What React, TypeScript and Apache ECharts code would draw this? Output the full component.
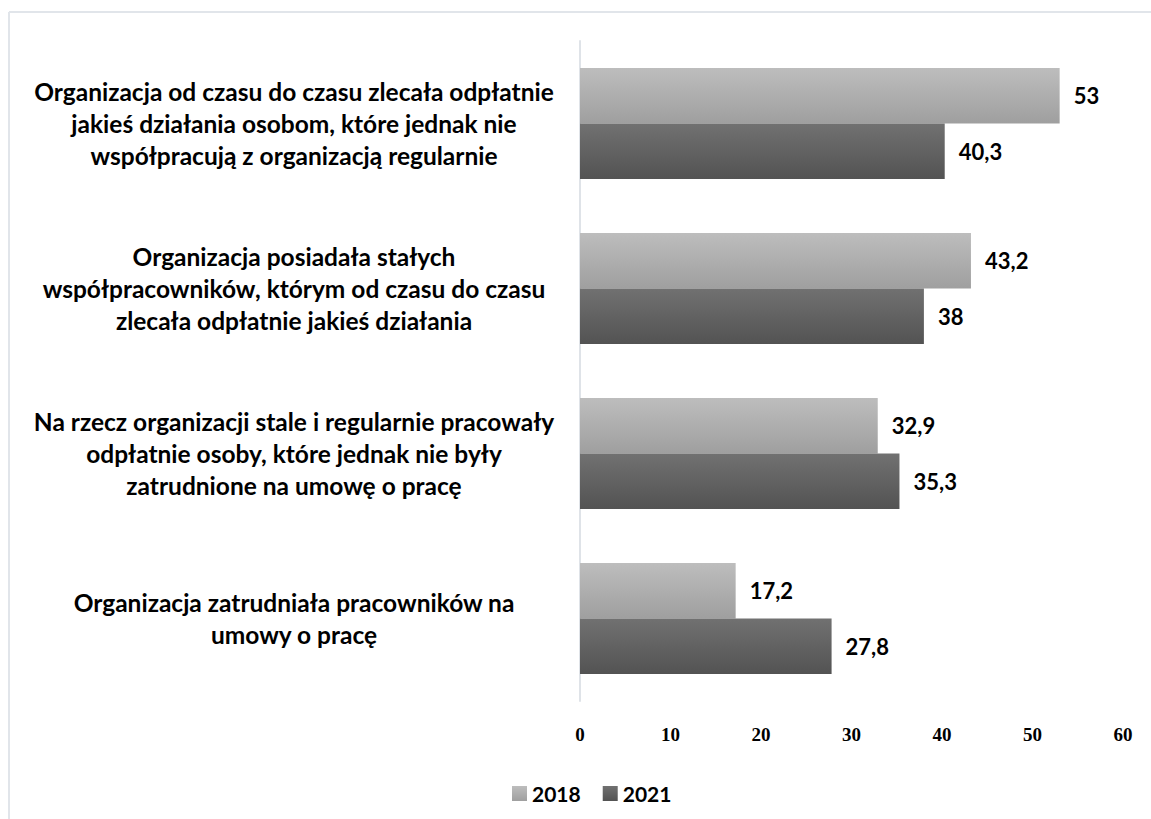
import React, { useEffect, useRef } from "react";
import * as echarts from "echarts";

const categories: string[] = [
  "Organizacja od czasu do czasu zlecała odpłatnie\njakieś działania osobom, które jednak nie\nwspółpracują z organizacją regularnie",
  "Organizacja posiadała stałych\nwspółpracowników, którym od czasu do czasu\nzlecała odpłatnie jakieś działania",
  "Na rzecz organizacji stale i regularnie pracowały\nodpłatnie osoby, które jednak nie były\nzatrudnione na umowę o pracę",
  "Organizacja zatrudniała pracowników na\numowy o pracę",
];
const seriesNames: string[] = ["2018", "2021"];
const values2018: number[] = [53, 43.2, 32.9, 17.2];
const values2021: number[] = [40.3, 38, 35.3, 27.8];
const xTicks = { min: 0, max: 60, interval: 10 };

const LABEL_FONT = "Lato, 'Open Sans', sans-serif";

export default function App() {
  const ref = useRef<HTMLDivElement>(null);
  useEffect(() => {
    if (!ref.current) return;
    const chart = echarts.init(ref.current, undefined, { renderer: "svg" });
    const grad = (a: string, b: string) =>
      new echarts.graphic.LinearGradient(0, 0, 0, 1, [
        { offset: 0, color: a },
        { offset: 1, color: b },
      ]);
    const valueLabel = {
      show: true,
      position: "right" as const,
      distance: 14,
      color: "#000",
      fontFamily: LABEL_FONT,
      fontWeight: "bold" as const,
      fontSize: 22,
      formatter: (p: any) => String(p.value).replace(".", ","),
    };
    chart.setOption({
      animation: false,
      graphic: [
        { type: "line", shape: { x1: 9, y1: 12, x2: 1151, y2: 12 }, style: { stroke: "#e1e5ea", lineWidth: 2 } },
        { type: "line", shape: { x1: 9, y1: 12, x2: 9, y2: 819 }, style: { stroke: "#e1e5ea", lineWidth: 2 } },
      ],
      grid: { left: 580, right: 28, top: 41, bottom: 118, containLabel: false },
      legend: {
        data: seriesNames,
        left: 507,
        top: 778,
        itemWidth: 15,
        itemHeight: 15,
        itemGap: 22,
        icon: "rect",
        textStyle: { fontFamily: LABEL_FONT, fontWeight: "bold", fontSize: 21, color: "#000" },
      },
      xAxis: {
        type: "value",
        min: xTicks.min,
        max: xTicks.max,
        interval: xTicks.interval,
        axisLine: { show: false },
        axisTick: { show: false },
        splitLine: { show: false },
        axisLabel: {
          margin: 24,
          color: "#000",
          fontFamily: "'Liberation Serif', serif",
          fontWeight: "bold",
          fontSize: 19,
        },
      },
      yAxis: {
        type: "category",
        data: categories,
        inverse: true,
        axisLine: { show: true, lineStyle: { color: "#dfe3e8", width: 2 } },
        axisTick: { show: false },
        axisLabel: {
          margin: 286,
          align: "center",
          color: "#000",
          fontFamily: LABEL_FONT,
          fontWeight: "bold",
          fontSize: 24.5,
          lineHeight: 32,
        },
      },
      series: [
        {
          name: seriesNames[0],
          type: "bar",
          data: values2018,
          barWidth: 55.5,
          barGap: "0%",
          itemStyle: { color: grad("#bdbdbd", "#9f9f9f") },
          label: valueLabel,
        },
        {
          name: seriesNames[1],
          type: "bar",
          data: values2021,
          barWidth: 55.5,
          barGap: "0%",
          itemStyle: { color: grad("#717171", "#535353") },
          label: valueLabel,
        },
      ],
    });
    return () => chart.dispose();
  }, []);
  return (
    <div
      ref={ref}
      style={{ position: "fixed", left: 0, top: 0, width: 1151, height: 819, background: "#fff" }}
    />
  );
}
